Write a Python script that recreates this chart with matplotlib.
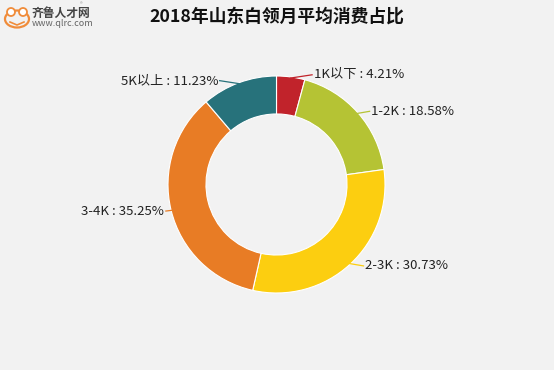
import matplotlib
matplotlib.use("Agg")
import matplotlib.pyplot as plt
import numpy as np
from matplotlib.patches import Ellipse, Circle

plt.rcParams['font.family'] = ['Noto Sans CJK SC', 'DejaVu Sans']

# data
categories = ['1K以下', '1-2K', '2-3K', '3-4K', '5K以上']
shares = [4.21, 18.58, 30.73, 35.25, 11.23]
colors = ['#C1232B', '#B5C334', '#FCCE10', '#E87C25', '#27727B']
title = '2018年山东白领月平均消费占比'

W, H = 554, 370
bg = '#f2f2f2'
fig = plt.figure(figsize=(W / 100, H / 100), dpi=100, facecolor=bg)

# pie axes placed in pixels: center (276.5, 184.5), radius 108.5
cx, cy, R = 276.5, 184.5, 108.5
ax = fig.add_axes([(cx - R) / W, (H - cy - R) / H, 2 * R / W, 2 * R / H])

wedges, _ = ax.pie(shares, colors=colors, startangle=90, counterclock=False,
                   radius=1.0, wedgeprops=dict(width=0.35, edgecolor='white', linewidth=0.8))
ax.set_xlim(-1, 1)
ax.set_ylim(-1, 1)
ax.set_aspect('equal')
ax.axis('off')

# labels with short leader lines
for w, cat, val, col in zip(wedges, categories, shares, colors):
    ang = np.deg2rad((w.theta1 + w.theta2) / 2)
    s, c = np.sin(ang), np.cos(ang)
    x0, y0 = 0.99 * c, 0.99 * s
    side = 1 if c >= 0 else -1
    x1 = x0 + side * (0.05 + 0.15 * s ** 2)
    y1 = y0 + 0.03 * s
    ax.plot([x0, x1], [y0, y1], color=col, lw=0.9, clip_on=False)
    ax.text(x1 + side * 0.015, y1, f'{cat} : {val:.2f}%', ha='left' if side > 0 else 'right',
            va='center', fontsize=9.5, color='#222222')

fig.text(cx / W, 1 - 17 / H, title, ha='center', va='center', fontsize=12.8,
         fontweight='bold', color='#111111')

# logo
lax = fig.add_axes([0, 1 - 40 / H, 120 / W, 40 / H])
lax.set_xlim(0, 120)
lax.set_ylim(40, 0)
lax.axis('off')
lax.add_patch(Ellipse((17, 19), 24, 17, facecolor='none', edgecolor='#f08c3a', lw=1.6))
lax.add_patch(Circle((11, 12), 4, facecolor='white', edgecolor='#f08c3a', lw=1.3))
lax.add_patch(Circle((23, 12), 4, facecolor='white', edgecolor='#f08c3a', lw=1.3))
lax.plot([10, 17, 24], [22, 25, 22], color='#f08c3a', lw=1.2)
lax.text(32, 13, '齐鲁人才网', fontsize=8.5, fontweight='bold', color='#444444', va='center')
lax.text(80, 5, '®', fontsize=4, color='#888888', va='center')
lax.text(32, 23, 'www.qlrc.com', fontsize=6.5, color='#666666', va='center')

fig.savefig('out.png', dpi=100, facecolor=bg)
